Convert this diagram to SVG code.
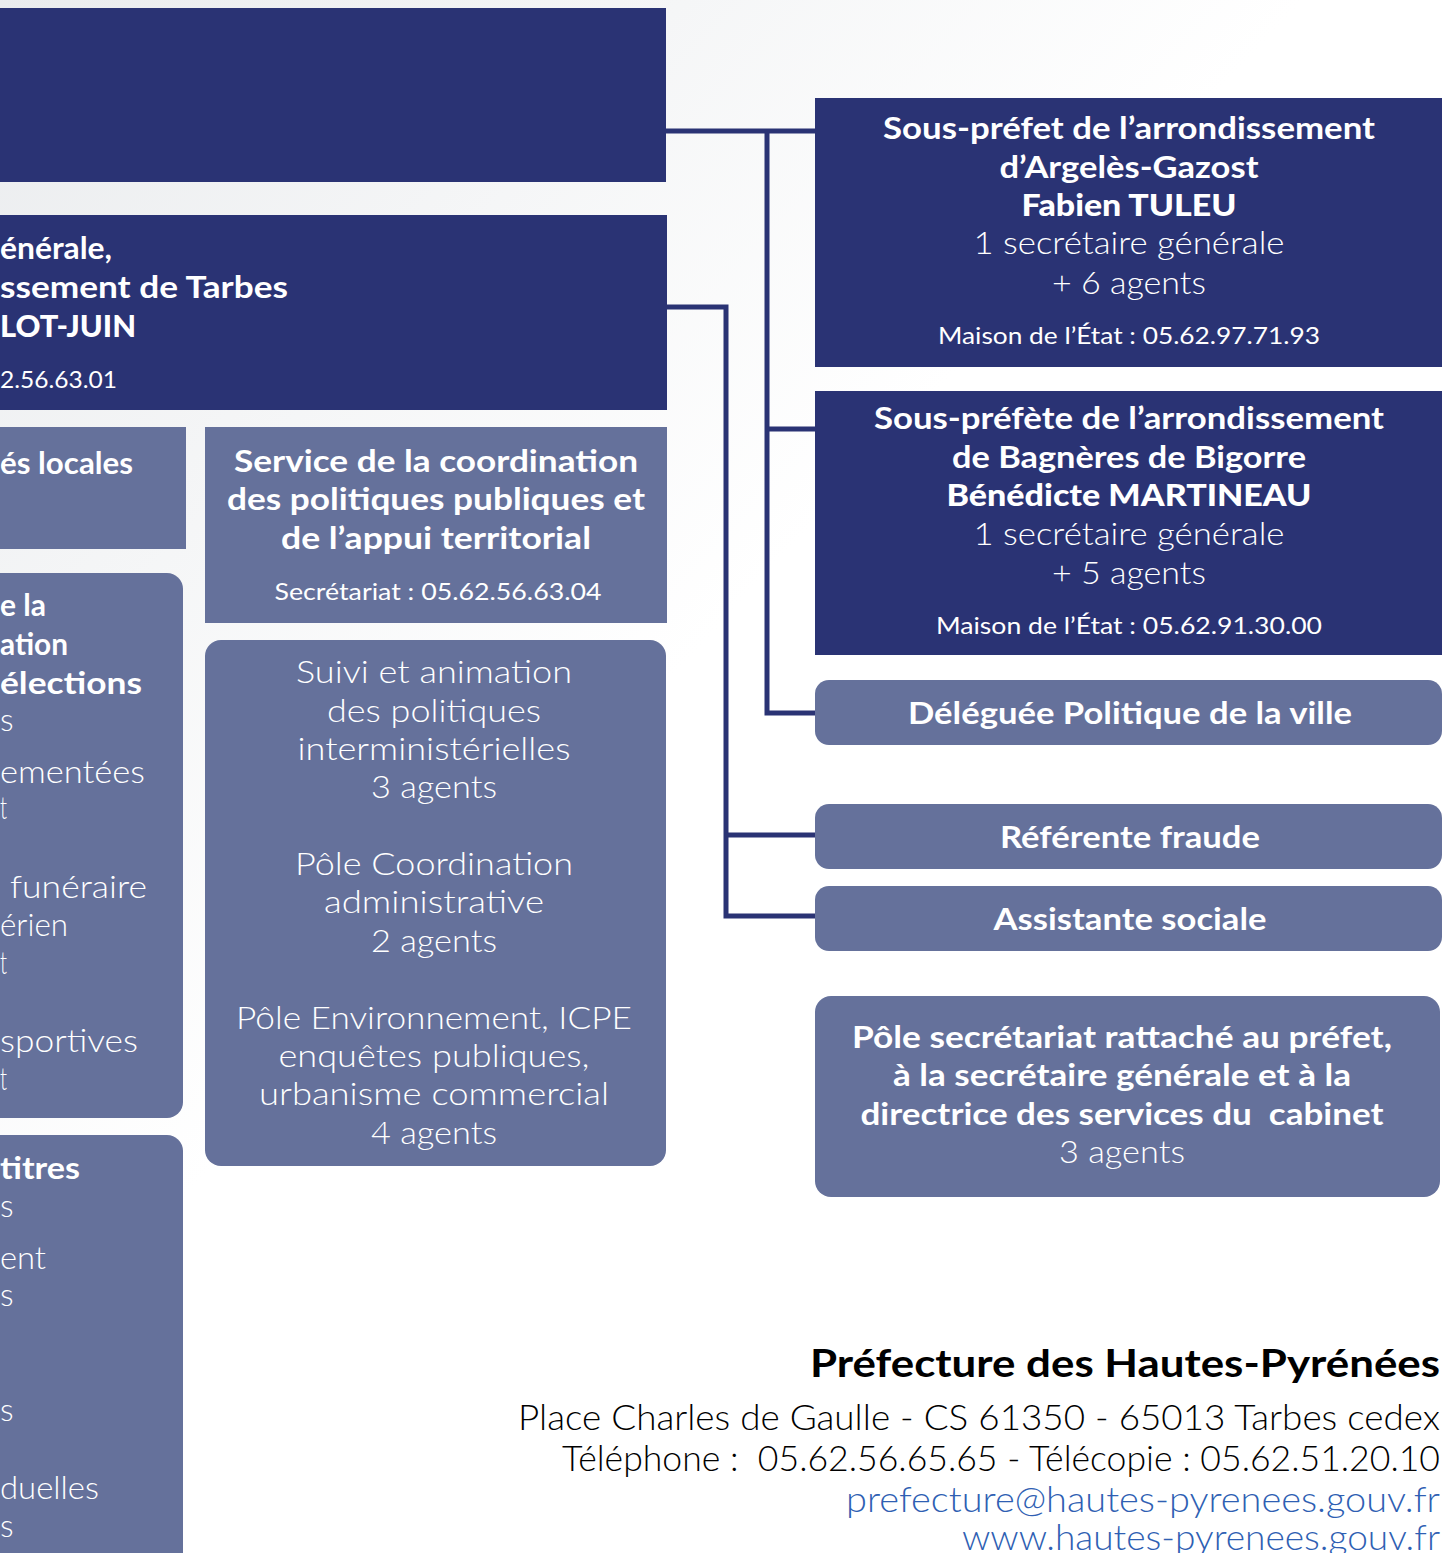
<svg xmlns="http://www.w3.org/2000/svg" width="1448" height="1553" viewBox="0 0 1448 1553">
<defs>
<linearGradient id="bg" x1="0" y1="0" x2="1" y2="1">
<stop offset="0" stop-color="#eaecee"/>
<stop offset="0.45" stop-color="#ffffff"/>
<stop offset="1" stop-color="#ffffff"/>
</linearGradient>
<style>
.dk{fill:#2a3374}
.md{fill:#65719b}
.t{font-family:Lato,"Open Sans","Liberation Sans",sans-serif;fill:#ffffff}
.b{font-weight:700;font-size:31px}
.x{font-weight:900;font-size:31px}
.l{font-weight:300;font-size:32px}
.s{font-weight:400;font-size:24px}
.c{text-anchor:middle}
.e{text-anchor:end}
.con{fill:none;stroke:#2a3374;stroke-width:5}
.f{font-family:Lato,"Open Sans","Liberation Sans",sans-serif;text-anchor:end}
</style>
</defs>
<rect x="0" y="0" width="1448" height="1553" fill="url(#bg)"/>

<g id="connectors">
<polyline class="con" points="666,131 815,131"/>
<polyline class="con" points="767,131 767,713 815,713"/>
<polyline class="con" points="767,429 815,429"/>
<polyline class="con" points="667,307 726,307 726,916 815,916"/>
<polyline class="con" points="726,835 815,835"/>
</g>

<g id="node-prefet">
<rect class="dk" x="-10" y="8" width="676" height="174"/>
</g>

<g id="node-sg">
<rect class="dk" x="-10" y="215" width="677" height="195"/>
<text class="t b" x="0" y="259" textLength="112" lengthAdjust="spacingAndGlyphs">énérale,</text>
<text class="t b" x="0" y="298" textLength="288" lengthAdjust="spacingAndGlyphs">ssement de Tarbes</text>
<text class="t x" x="0" y="337" textLength="136" lengthAdjust="spacingAndGlyphs">LOT-JUIN</text>
<text class="t s" x="0" y="388" textLength="117" lengthAdjust="spacingAndGlyphs">2.56.63.01</text>
</g>

<g id="node-collectivites">
<rect class="md" x="-10" y="427" width="196" height="122"/>
<text class="t b" x="0" y="474" textLength="133" lengthAdjust="spacingAndGlyphs">és locales</text>
</g>

<g id="node-reglementation">
<rect class="md" x="-30" y="573" width="213" height="545" rx="16"/>
<text class="t b" x="0" y="616" textLength="46" lengthAdjust="spacingAndGlyphs">e la</text>
<text class="t b" x="0" y="655" textLength="68" lengthAdjust="spacingAndGlyphs">ation</text>
<text class="t b" x="0" y="694" textLength="142" lengthAdjust="spacingAndGlyphs">élections</text>
<text class="t l" x="0" y="731">s</text>
<text class="t l" x="0" y="783" textLength="145" lengthAdjust="spacingAndGlyphs">ementées</text>
<text class="t l" x="0" y="819" textLength="7" lengthAdjust="spacingAndGlyphs">t</text>
<text class="t l" x="10" y="898" textLength="137" lengthAdjust="spacingAndGlyphs">funéraire</text>
<text class="t l" x="0" y="936" textLength="68" lengthAdjust="spacingAndGlyphs">érien</text>
<text class="t l" x="0" y="974" textLength="7" lengthAdjust="spacingAndGlyphs">t</text>
<text class="t l" x="0" y="1052" textLength="138" lengthAdjust="spacingAndGlyphs">sportives</text>
<text class="t l" x="0" y="1090" textLength="7" lengthAdjust="spacingAndGlyphs">t</text>
</g>

<g id="node-titres">
<rect class="md" x="-30" y="1135" width="213" height="440" rx="16"/>
<text class="t b" x="0" y="1179" textLength="80" lengthAdjust="spacingAndGlyphs">titres</text>
<text class="t l" x="0" y="1217">s</text>
<text class="t l" x="0" y="1269" textLength="46" lengthAdjust="spacingAndGlyphs">ent</text>
<text class="t l" x="0" y="1306">s</text>
<text class="t l" x="0" y="1421">s</text>
<text class="t l" x="0" y="1499" textLength="99" lengthAdjust="spacingAndGlyphs">duelles</text>
<text class="t l" x="0" y="1537">s</text>
</g>

<g id="node-coordination">
<rect class="md" x="205" y="427" width="462" height="196"/>
<text class="t b c" x="436" y="472" textLength="404" lengthAdjust="spacingAndGlyphs">Service de la coordination</text>
<text class="t b c" x="436" y="510" textLength="418" lengthAdjust="spacingAndGlyphs">des politiques publiques et</text>
<text class="t b c" x="436" y="549" textLength="310" lengthAdjust="spacingAndGlyphs">de l’appui territorial</text>
<text class="t s c" x="438" y="600" textLength="327" lengthAdjust="spacingAndGlyphs">Secrétariat : 05.62.56.63.04</text>
</g>

<g id="node-poles">
<rect class="md" x="205" y="640" width="461" height="526" rx="16"/>
<text class="t l c" x="434" y="683" textLength="276" lengthAdjust="spacingAndGlyphs">Suivi et animation</text>
<text class="t l c" x="434" y="722" textLength="214" lengthAdjust="spacingAndGlyphs">des politiques</text>
<text class="t l c" x="434" y="760" textLength="273" lengthAdjust="spacingAndGlyphs">interministérielles</text>
<text class="t l c" x="434" y="798" textLength="126" lengthAdjust="spacingAndGlyphs">3 agents</text>
<text class="t l c" x="434" y="875" textLength="278" lengthAdjust="spacingAndGlyphs">Pôle Coordination</text>
<text class="t l c" x="434" y="913" textLength="220" lengthAdjust="spacingAndGlyphs">administrative</text>
<text class="t l c" x="434" y="952" textLength="126" lengthAdjust="spacingAndGlyphs">2 agents</text>
<text class="t l c" x="434" y="1029" textLength="396" lengthAdjust="spacingAndGlyphs">Pôle Environnement, ICPE</text>
<text class="t l c" x="434" y="1067" textLength="311" lengthAdjust="spacingAndGlyphs">enquêtes publiques,</text>
<text class="t l c" x="434" y="1105" textLength="350" lengthAdjust="spacingAndGlyphs">urbanisme commercial</text>
<text class="t l c" x="434" y="1144" textLength="126" lengthAdjust="spacingAndGlyphs">4 agents</text>
</g>

<g id="node-argeles">
<rect class="dk" x="815" y="98" width="627" height="269"/>
<text class="t b c" x="1129" y="139" textLength="492" lengthAdjust="spacingAndGlyphs">Sous-préfet de l’arrondissement</text>
<text class="t b c" x="1129" y="178" textLength="259" lengthAdjust="spacingAndGlyphs">d’Argelès-Gazost</text>
<text class="t x c" x="1129" y="216" textLength="215" lengthAdjust="spacingAndGlyphs">Fabien TULEU</text>
<text class="t l c" x="1129" y="254" textLength="311" lengthAdjust="spacingAndGlyphs">1 secrétaire générale</text>
<text class="t l c" x="1129" y="294" textLength="154" lengthAdjust="spacingAndGlyphs">+ 6 agents</text>
<text class="t s c" x="1129" y="344" textLength="382" lengthAdjust="spacingAndGlyphs">Maison de l’État : 05.62.97.71.93</text>
</g>

<g id="node-bagneres">
<rect class="dk" x="815" y="391" width="627" height="264"/>
<text class="t b c" x="1129" y="429" textLength="510" lengthAdjust="spacingAndGlyphs">Sous-préfète de l’arrondissement</text>
<text class="t b c" x="1129" y="468" textLength="354" lengthAdjust="spacingAndGlyphs">de Bagnères de Bigorre</text>
<text class="t x c" x="1129" y="506" textLength="365" lengthAdjust="spacingAndGlyphs">Bénédicte MARTINEAU</text>
<text class="t l c" x="1129" y="545" textLength="311" lengthAdjust="spacingAndGlyphs">1 secrétaire générale</text>
<text class="t l c" x="1129" y="584" textLength="154" lengthAdjust="spacingAndGlyphs">+ 5 agents</text>
<text class="t s c" x="1129" y="634" textLength="386" lengthAdjust="spacingAndGlyphs">Maison de l’État : 05.62.91.30.00</text>
</g>

<g id="node-deleguee">
<rect class="md" x="815" y="680" width="627" height="65" rx="14"/>
<text class="t b c" x="1130" y="724" textLength="444" lengthAdjust="spacingAndGlyphs">Déléguée Politique de la ville</text>
</g>

<g id="node-fraude">
<rect class="md" x="815" y="804" width="627" height="65" rx="14"/>
<text class="t b c" x="1130" y="848" textLength="260" lengthAdjust="spacingAndGlyphs">Référente fraude</text>
</g>

<g id="node-assistante">
<rect class="md" x="815" y="886" width="627" height="65" rx="14"/>
<text class="t b c" x="1130" y="930" textLength="273" lengthAdjust="spacingAndGlyphs">Assistante sociale</text>
</g>

<g id="node-secretariat">
<rect class="md" x="815" y="996" width="625" height="201" rx="16"/>
<text class="t b c" x="1122" y="1048" textLength="540" lengthAdjust="spacingAndGlyphs">Pôle secrétariat rattaché au préfet,</text>
<text class="t b c" x="1122" y="1086" textLength="458" lengthAdjust="spacingAndGlyphs">à la secrétaire générale et à la</text>
<text class="t b c" x="1122" y="1125" textLength="523" lengthAdjust="spacingAndGlyphs" xml:space="preserve">directrice des services du  cabinet</text>
<text class="t l c" x="1122" y="1163" textLength="126" lengthAdjust="spacingAndGlyphs">3 agents</text>
</g>

<g id="footer">
<text class="f" x="1440" y="1377" font-size="38" font-weight="700" fill="#000000" textLength="630" lengthAdjust="spacingAndGlyphs">Préfecture des Hautes-Pyrénées</text>
<text class="f" x="1440" y="1430" font-size="35" font-weight="300" fill="#000000" textLength="922" lengthAdjust="spacingAndGlyphs">Place Charles de Gaulle - CS 61350 - 65013 Tarbes cedex</text>
<text class="f" x="1440" y="1471" font-size="35" font-weight="300" fill="#000000" textLength="878" lengthAdjust="spacingAndGlyphs" xml:space="preserve">Téléphone :  05.62.56.65.65 - Télécopie : 05.62.51.20.10</text>
<text class="f" x="1440" y="1512" font-size="35" font-weight="300" fill="#2f5fb3" textLength="594" lengthAdjust="spacingAndGlyphs">prefecture@hautes-pyrenees.gouv.fr</text>
<text class="f" x="1440" y="1550" font-size="35" font-weight="300" fill="#2f5fb3" textLength="478" lengthAdjust="spacingAndGlyphs">www.hautes-pyrenees.gouv.fr</text>
</g>
</svg>
